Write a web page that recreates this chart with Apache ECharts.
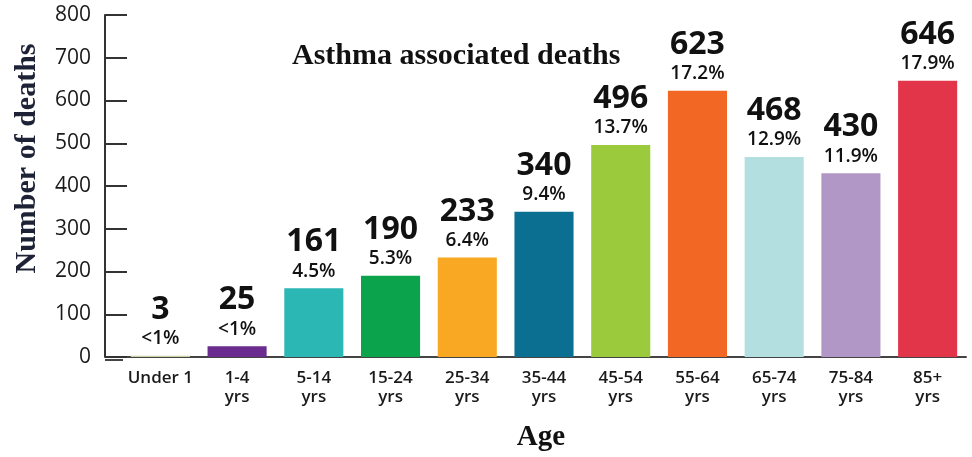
<!DOCTYPE html>
<html><head><meta charset="utf-8">
<script src="https://cdn.jsdelivr.net/npm/echarts@6/dist/echarts.min.js"></script>
<style>html,body{margin:0;padding:0;background:#fff}#c{width:972px;height:457px}</style>
</head><body><div id="c"></div>
<script>
const categories = ['Under 1', '1-4\nyrs', '5-14\nyrs', '15-24\nyrs', '25-34\nyrs', '35-44\nyrs', '45-54\nyrs', '55-64\nyrs', '65-74\nyrs', '75-84\nyrs', '85+\nyrs'];
const deaths = [3, 25, 161, 190, 233, 340, 496, 623, 468, 430, 646];
const shares = ['<1%', '<1%', '4.5%', '5.3%', '6.4%', '9.4%', '13.7%', '17.2%', '12.9%', '11.9%', '17.9%'];
const colors = ['#c9d3a8', '#6b2c8f', '#2bb7b4', '#0ba34b', '#f8a822', '#0b6f92', '#9bcb3c', '#f16723', '#b3dfe0', '#b197c6', '#e2354a'];
const yTicks = [0, 100, 200, 300, 400, 500, 600, 700, 800];

const chart = echarts.init(document.getElementById('c'));
const numFont = '"Open Sans", "DejaVu Sans", sans-serif';
const serif = '"Liberation Serif", "DejaVu Serif", serif';
chart.setOption({
  animation: false,
  title: {
    text: 'Asthma associated deaths',
    left: 287, top: 36,
    textStyle: {fontFamily: serif, fontWeight: 'bold', fontSize: 30, color: '#111'}
  },
  grid: {left: 122, right: 6, top: 15, bottom: 97},
  xAxis: {
    type: 'category',
    data: categories,
    name: 'Age',
    nameLocation: 'middle',
    nameGap: 66,
    nameTextStyle: {fontFamily: serif, fontWeight: 'bold', fontSize: 29, color: '#111', padding: [0, 6, 0, 0]},
    axisLine: {lineStyle: {color: '#444', width: 2}},
    axisTick: {show: false},
    axisLabel: {interval: 0, fontFamily: numFont, fontSize: 17, fontWeight: 600, color: '#1a1a1a', lineHeight: 19, margin: 12}
  },
  yAxis: {
    type: 'value',
    min: yTicks[0], max: yTicks[yTicks.length - 1], interval: 100,
    offset: 17,
    name: 'Number of deaths',
    nameLocation: 'middle',
    nameGap: 63,
    nameRotate: 90,
    nameTextStyle: {fontFamily: serif, fontWeight: 'bold', fontSize: 30, color: '#1e2236', padding: [0, 0, 0, 55]},
    splitLine: {show: false},
    axisLine: {show: true, lineStyle: {color: '#333', width: 2}},
    axisTick: {show: true, inside: true, length: 22, lineStyle: {color: '#333', width: 2}},
    axisLabel: {fontFamily: numFont, fontSize: 21, color: '#1a1a1a', margin: 14}
  },
  graphic: [{type: 'line', shape: {x1: 105, y1: 360, x2: 123, y2: 360}, style: {stroke: '#444', lineWidth: 2}}],
  series: [{
    type: 'bar',
    barCategoryGap: '23%',
    data: deaths.map((v, i) => ({value: v, itemStyle: {color: colors[i]}})),
    label: {
      show: true,
      position: 'top',
      distance: 6,
      formatter: p => '{v|' + deaths[p.dataIndex] + '}\n{p|' + shares[p.dataIndex] + '}',
      rich: {
        v: {fontFamily: numFont, fontWeight: 'bold', fontSize: 32, color: '#111', lineHeight: 36},
        p: {fontFamily: numFont, fontWeight: 600, fontSize: 19, color: '#111', lineHeight: 22}
      }
    }
  }]
});
</script></body></html>
